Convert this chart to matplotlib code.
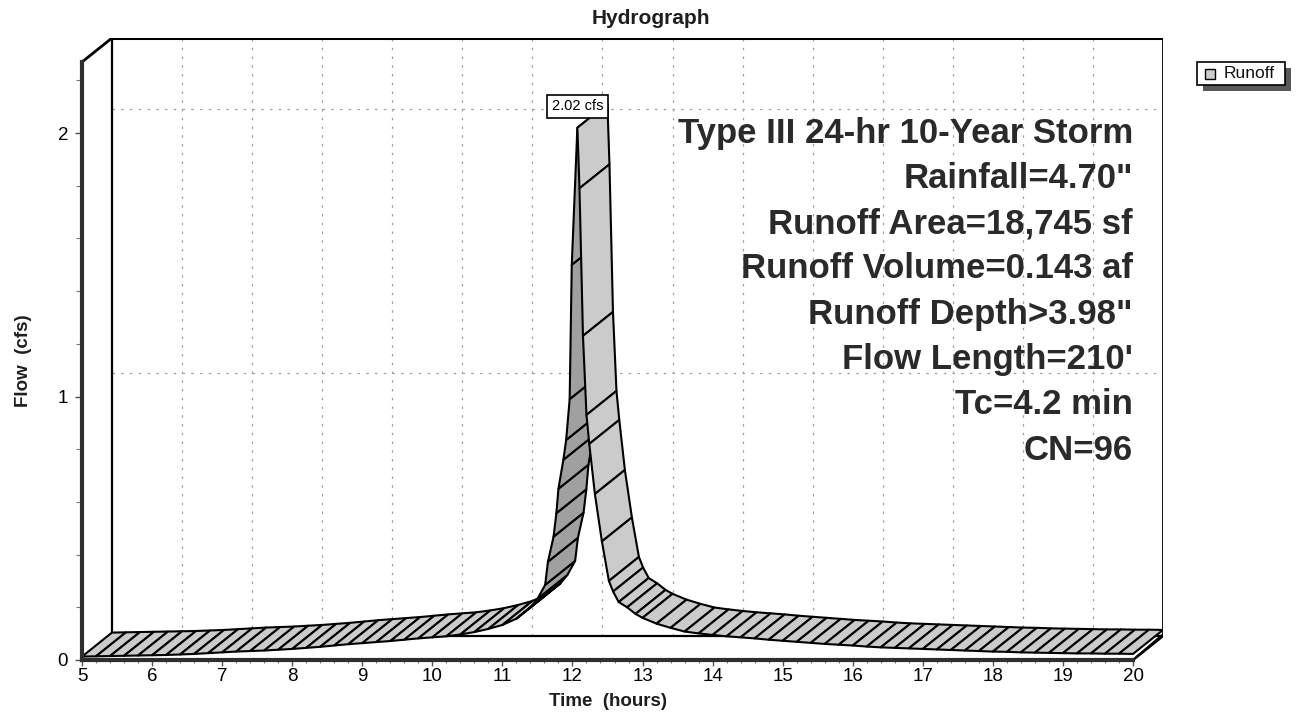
import numpy as np
import matplotlib
matplotlib.use("Agg")
import matplotlib.pyplot as plt
from matplotlib.patches import Polygon, Rectangle

# ---- hydrograph data (time in hours, flow in cfs) ----
time_hr = [5.0, 5.2, 5.4, 5.6, 5.8, 6.0, 6.2, 6.4, 6.6, 6.8,
           7.0, 7.2, 7.4, 7.6, 7.8, 8.0, 8.2, 8.4, 8.6, 8.8,
           9.0, 9.2, 9.4, 9.6, 9.8, 10.0, 10.2, 10.4, 10.6, 10.8,
           11.0, 11.2, 11.4, 11.5, 11.61, 11.65, 11.73, 11.77, 11.80, 11.87,
           11.91, 11.96, 11.99, 12.07, 12.10, 12.15, 12.20, 12.24, 12.32, 12.42,
           12.52, 12.58, 12.66, 12.78, 12.90, 13.0, 13.2, 13.4, 13.6, 13.8,
           14.0, 14.2, 14.4, 14.6, 14.8, 15.0, 15.2, 15.4, 15.6, 15.8,
           16.0, 16.2, 16.4, 16.6, 16.8, 17.0, 17.2, 17.4, 17.6, 17.8,
           18.0, 18.2, 18.4, 18.6, 18.8, 19.0, 19.2, 19.4, 19.6, 19.8, 20.0]
flow_cfs = [0.013, 0.014, 0.015, 0.016, 0.017, 0.018, 0.019, 0.021, 0.023, 0.026,
            0.029, 0.032, 0.034, 0.036, 0.039, 0.042, 0.046, 0.050, 0.055, 0.060,
            0.064, 0.068, 0.072, 0.077, 0.082, 0.086, 0.090, 0.097, 0.106, 0.118,
            0.133, 0.157, 0.200, 0.232, 0.285, 0.373, 0.468, 0.557, 0.650, 0.760,
            0.835, 0.990, 1.500, 2.020, 1.790, 1.230, 0.930, 0.820, 0.630, 0.450,
            0.300, 0.260, 0.220, 0.200, 0.175, 0.160, 0.138, 0.122, 0.108, 0.101,
            0.095, 0.090, 0.086, 0.082, 0.077, 0.073, 0.069, 0.065, 0.061, 0.058,
            0.055, 0.051, 0.048, 0.046, 0.044, 0.042, 0.040, 0.038, 0.036, 0.034,
            0.032, 0.031, 0.029, 0.028, 0.027, 0.026, 0.025, 0.025, 0.024, 0.024, 0.023]

peak_flow = 2.02
peak_label = "2.02 cfs"
x_ticks = list(range(5, 21))
y_ticks = [0, 1, 2]
series_name = "Runoff"
info_lines = ["Type III 24-hr 10-Year Storm",
              "Rainfall=4.70\"",
              "Runoff Area=18,745 sf",
              "Runoff Volume=0.143 af",
              "Runoff Depth>3.98\"",
              "Flow Length=210'",
              "Tc=4.2 min",
              "CN=96"]

FONT = ["Liberation Sans", "DejaVu Sans"]
plt.rcParams["font.family"] = FONT

W, H = 1302, 715
fig = plt.figure(figsize=(W / 100, H / 100), dpi=100)
fig.patch.set_facecolor("white")

# front plane geometry (pixels)
X0, X1 = 82, 1133          # t = 5 h and t = 20 h on the front floor
Y0 = 660                   # q = 0 on the front floor
PX_PER_CFS = 263.5
DEPTH_X, DEPTH_Y = 30, 24  # shift from front plane to back wall
TOP_BACK = 38
TOP_FRONT = 62
px_per_hr = (X1 - X0) / 15.0

ax_right = X1 + DEPTH_X
ax = fig.add_axes([X0 / W, (H - Y0) / H, (ax_right - X0) / W, (Y0 - TOP_BACK) / H])
ax.set_xlim(5, 5 + (ax_right - X0) / px_per_hr)
ax.set_ylim(0, (Y0 - TOP_BACK) / PX_PER_CFS)
ax.patch.set_alpha(0)

dx = DEPTH_X / px_per_hr
dy = DEPTH_Y / PX_PER_CFS
q_front_top = (Y0 - TOP_FRONT) / PX_PER_CFS
q_back_top = q_front_top + dy
t0, t1 = 5.0, 20.0

# ---- back wall grid ----
grid_kw = dict(color="#a0a0a0", lw=0.9, ls=(0, (2, 5)), zorder=1)
for t in x_ticks[1:-1]:
    ax.plot([t + dx, t + dx], [dy, q_back_top], **grid_kw)
for q in y_ticks[1:]:
    ax.plot([t0 + dx, t1 + dx], [q + dy, q + dy], **grid_kw)

# ---- box frame ----
frame_kw = dict(color="black", solid_capstyle="butt", zorder=2)
ax.plot([t0 + dx, t1 + dx], [q_back_top, q_back_top], lw=2.2, **frame_kw)
ax.plot([t0, t0 + dx], [q_front_top, q_back_top], lw=2.0, **frame_kw)
ax.plot([t0 + dx, t0 + dx], [dy, q_back_top], lw=1.6, **frame_kw)
ax.plot([t1 + dx, t1 + dx], [dy, q_back_top], lw=2.0, **frame_kw)
ax.plot([t0 + dx, t1 + dx], [dy, dy], lw=1.6, **frame_kw)
ax.plot([t1, t1 + dx], [0, dy], lw=1.8, **frame_kw)
ax.plot([t1 + 3 / px_per_hr, t1 + dx], [3 / PX_PER_CFS, dy + 2 / PX_PER_CFS], lw=1.2, **frame_kw)

# ---- 3-D ribbon ----
LIGHT = "#cbcbcb"
DARK = "#a0a0a0"
t_arr = np.asarray(time_hr)
q_arr = np.asarray(flow_cfs)
for i in range(len(t_arr) - 1):
    ta, tb = t_arr[i], t_arr[i + 1]
    qa, qb = q_arr[i], q_arr[i + 1]
    quad = [(ta, qa), (tb, qb), (tb + dx, qb + dy), (ta + dx, qa + dy)]
    sx = (tb - ta) * px_per_hr
    sy = (qb - qa) * PX_PER_CFS
    underside = sx * DEPTH_Y - sy * DEPTH_X < 0
    ax.add_patch(Polygon(quad, closed=True, fc=DARK if underside else LIGHT,
                         ec="black", lw=1.5, joinstyle="round", zorder=3))

# peak label
i_peak = int(np.argmax(q_arr))
ax.annotate(peak_label, xy=(t_arr[i_peak], peak_flow), xytext=(0, 15.5),
            textcoords="offset points", ha="center", va="center", fontsize=10.5,
            bbox=dict(boxstyle="square,pad=0.32", fc="white", ec="black", lw=1.2),
            zorder=6, annotation_clip=False)

# ---- axes, ticks ----
for side in ("top", "right"):
    ax.spines[side].set_visible(False)
ax.spines["left"].set_bounds(0, q_front_top)
ax.spines["bottom"].set_bounds(t0, t1)
for side in ("left", "bottom"):
    ax.spines[side].set_linewidth(3.0)
    ax.spines[side].set_color("#2e2e2e")
    ax.spines[side].set_zorder(4)

ax.set_xticks(x_ticks)
ax.set_xticks(np.arange(5, 20.01, 0.2), minor=True)
ax.set_yticks(y_ticks)
ax.set_yticks(np.arange(0, 2.21, 0.2), minor=True)
ax.set_xticklabels([str(v) for v in x_ticks])
ax.set_yticklabels([str(v) for v in y_ticks])
ax.tick_params(axis="x", which="major", direction="out", length=4, width=1,
               color="#555555", labelsize=13.5, pad=1.5)
ax.tick_params(axis="x", which="minor", direction="out", length=2.5, width=0.8,
               color="#777777")
ax.tick_params(axis="y", which="major", direction="out", length=5, width=1,
               color="#555555", labelsize=13.5, pad=5)
ax.tick_params(axis="y", which="minor", direction="out", length=4, width=0.8,
               color="#777777")

# ---- titles ----
def fy(ypx):
    return (H - ypx) / H

fig.text(651 / W, fy(18), "Hydrograph", ha="center", va="center",
         fontsize=15, fontweight="bold", color="#1e1e1e")
fig.text(608 / W, fy(702), "Time  (hours)", ha="center", va="center",
         fontsize=13.5, fontweight="bold", color="#1e1e1e")
fig.text(24 / W, fy(361), "Flow  (cfs)", ha="center", va="center", rotation=90,
         fontsize=13.5, fontweight="bold", color="#1e1e1e")

# ---- storm summary ----
line_y = [133, 179, 224, 269, 315, 360, 405, 450]
for txt, ypx in zip(info_lines, line_y):
    fig.text(1133 / W, fy(ypx), txt, ha="right", va="center",
             fontsize=25, fontweight="bold", color="#2a2a2a")

# ---- legend ----
fig.patches.append(Rectangle((1203 / W, fy(91)), 88 / W, 23 / H, transform=fig.transFigure,
                             fc="#5a5a5a", ec="none", zorder=1))
fig.patches.append(Rectangle((1197 / W, fy(85)), 88 / W, 23 / H, transform=fig.transFigure,
                             fc="white", ec="black", lw=1.2, zorder=2))
fig.patches.append(Rectangle((1205 / W, fy(79)), 10 / W, 10 / H, transform=fig.transFigure,
                             fc=LIGHT, ec="black", lw=1.0, zorder=3))
fig.text(1224 / W, fy(73.5), series_name, ha="left", va="center", fontsize=12.5,
         color="#111111", zorder=4)

fig.savefig("out.png", dpi=100, facecolor="white")
